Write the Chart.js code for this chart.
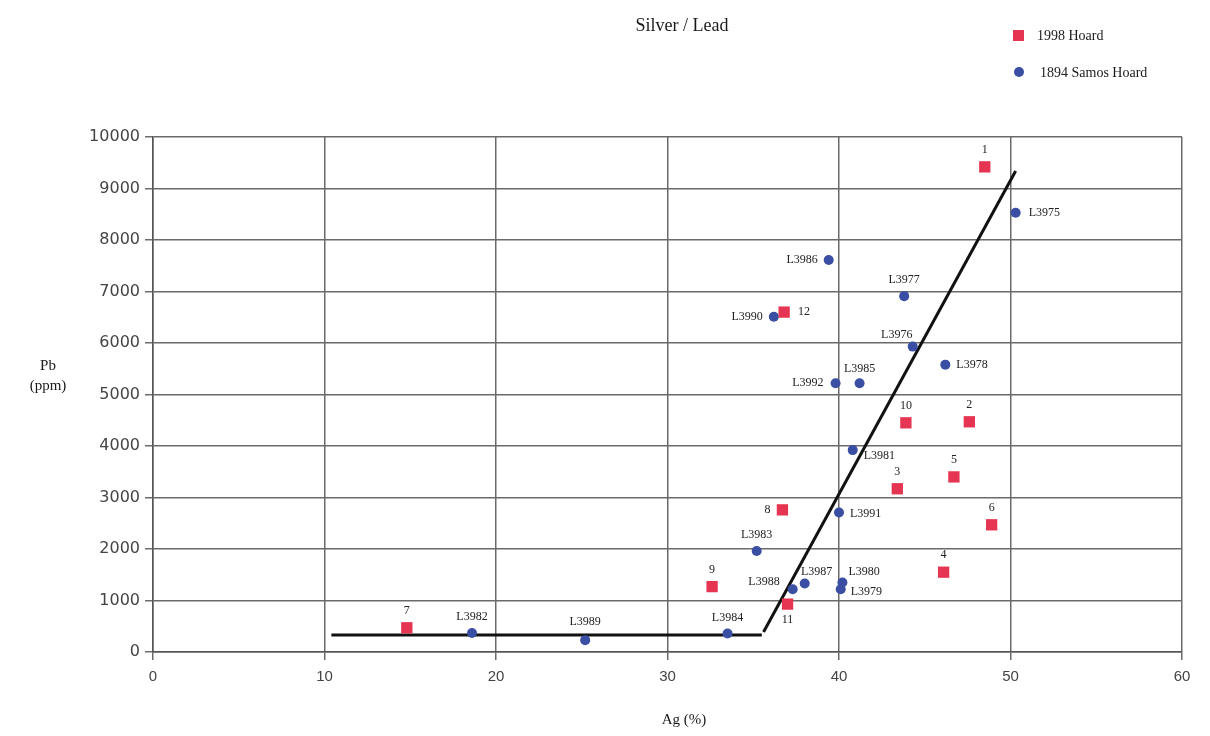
<!DOCTYPE html>
<html>
<head>
<meta charset="utf-8">
<script src="https://cdn.jsdelivr.net/npm/chart.js@4.4.0/dist/chart.umd.min.js"></script>
<style>
   html, body { margin: 0; padding: 0; background: #ffffff; }
   #wrap { width: 1210px; height: 736px; position: relative; }
</style>
</head>
<body>
<div id="wrap"><canvas id="agPbChart" width="1210" height="736"></canvas></div>
<script>
// 1998 Hoard (red squares)
const hoardLabels = ['1', '2', '3', '4', '5', '6', '7', '8', '9', '10', '11', '12'];
const hoardAg = [48.5, 47.6, 43.4, 46.1, 46.7, 48.9, 14.8, 36.7, 32.6, 43.9, 37.0, 36.8];
const hoardPb = [9420, 4470, 3170, 1550, 3400, 2470, 470, 2760, 1270, 4450, 930, 6600];

// 1894 Samos Hoard (blue circles)
const samosLabels = ['L3975', 'L3986', 'L3977', 'L3990', 'L3976', 'L3978', 'L3985', 'L3992', 'L3981',
   'L3991', 'L3983', 'L3988', 'L3987', 'L3980', 'L3979', 'L3984', 'L3982', 'L3989'];
const samosAg = [50.3, 39.4, 43.8, 36.2, 44.3, 46.2, 41.2, 39.8, 40.8,
   40.0, 35.2, 37.3, 38.0, 40.2, 40.1, 33.5, 18.6, 25.2];
const samosPb = [8530, 7610, 6910, 6510, 5930, 5580, 5220, 5220, 3920,
   2710, 1960, 1220, 1330, 1350, 1220, 360, 370, 230];

// hand drawn trend lines
const lowLineAg = [10.4, 35.5];
const lowLinePb = [330, 330];
const highLineAg = [35.6, 50.3];
const highLinePb = [390, 9340];

// axis ticks
const xTicks = [0, 10, 20, 30, 40, 50, 60];
const yTicks = [0, 1000, 2000, 3000, 4000, 5000, 6000, 7000, 8000, 9000, 10000];

const RED = '#e63552';
const BLUE = '#3a4ea3';

function toPoints(xs, ys) {
   return xs.map((x, i) => ({ x: x, y: ys[i] }));
}

// where each point label sits: [textAlign, dx, dy]
const labelPlace = {
   '8': ['right', -12, 0],
   '11': ['center', 0, 16],
   '12': ['left', 14, 0],
   'L3975': ['left', 13, 0],
   'L3986': ['right', -11, 0],
   'L3990': ['right', -11, 0],
   'L3976': ['center', -16, -12],
   'L3978': ['left', 11, 0],
   'L3985': ['center', 0, -14],
   'L3992': ['right', -12, 0],
   'L3981': ['left', 11, 6],
   'L3991': ['left', 11, 1],
   'L3988': ['right', -13, -7],
   'L3987': ['center', 12, -12],
   'L3980': ['left', 6, -11],
   'L3979': ['left', 10, 3],
   'L3989': ['center', 0, -18]
};

const pointLabels = {
   id: 'pointLabels',
   afterDatasetsDraw(chart) {
      const ctx = chart.ctx;
      ctx.save();
      ctx.font = '12px "Liberation Serif", "Times New Roman", serif';
      ctx.fillStyle = '#222';
      ctx.textBaseline = 'middle';
      [0, 1].forEach(di => {
         const ds = chart.data.datasets[di];
         chart.getDatasetMeta(di).data.forEach((el, i) => {
            const name = ds.names[i];
            const def = di === 0 ? ['center', 0, -17] : ['center', 0, -16];
            const p = labelPlace[name] || def;
            ctx.textAlign = p[0];
            ctx.fillText(name, el.x + p[1], el.y + p[2]);
         });
      });
      ctx.restore();
   }
};

const decorations = {
   id: 'decorations',
   afterDraw(chart) {
      const ctx = chart.ctx;
      ctx.save();
      ctx.fillStyle = '#1a1a1a';
      ctx.textBaseline = 'middle';
      ctx.textAlign = 'center';
      ctx.font = '18px "Liberation Serif", "Times New Roman", serif';
      ctx.fillText('Silver / Lead', 682, 26);

      ctx.font = '15px "Liberation Serif", "Times New Roman", serif';
      ctx.fillText('Ag (%)', 684, 720);
      ctx.fillText('Pb', 48, 366);
      ctx.fillText('(ppm)', 48, 386);

      // legend
      ctx.textAlign = 'left';
      ctx.font = '14px "Liberation Serif", "Times New Roman", serif';
      ctx.fillStyle = RED;
      ctx.fillRect(1013, 30, 11, 11);
      ctx.fillStyle = BLUE;
      ctx.beginPath();
      ctx.arc(1019, 72, 5, 0, Math.PI * 2);
      ctx.fill();
      ctx.fillStyle = '#1a1a1a';
      ctx.fillText('1998 Hoard', 1037, 36);
      ctx.fillText('1894 Samos Hoard', 1040, 73);
      ctx.restore();
   }
};

const ctx = document.getElementById('agPbChart').getContext('2d');
new Chart(ctx, {
   type: 'scatter',
   data: {
      datasets: [
         {
            label: '1998 Hoard',
            names: hoardLabels,
            data: toPoints(hoardAg, hoardPb),
            pointStyle: 'rect',
            pointRadius: 8,
            backgroundColor: RED,
            borderColor: RED,
            borderWidth: 0,
            order: 1
         },
         {
            label: '1894 Samos Hoard',
            names: samosLabels,
            data: toPoints(samosAg, samosPb),
            pointStyle: 'circle',
            pointRadius: 5,
            backgroundColor: BLUE,
            borderColor: BLUE,
            borderWidth: 0,
            order: 1
         },
         {
            type: 'line',
            data: toPoints(lowLineAg, lowLinePb),
            borderColor: '#111',
            borderWidth: 3,
            pointRadius: 0,
            order: 2
         },
         {
            type: 'line',
            data: toPoints(highLineAg, highLinePb),
            borderColor: '#111',
            borderWidth: 3,
            pointRadius: 0,
            order: 2
         }
      ]
   },
   options: {
      responsive: false,
      animation: false,
      layout: { padding: { top: 137, right: 28, left: 0, bottom: 0 } },
      plugins: {
         legend: { display: false },
         tooltip: { enabled: false }
      },
      scales: {
         x: {
            type: 'linear',
            min: 0,
            max: 60,
            afterBuildTicks: (s) => { s.ticks = xTicks.map(v => ({ value: v })); },
            afterFit: (s) => { s.height = 84; },
            grid: { color: '#6a6a6a', lineWidth: 1.5, tickLength: 8 },
            border: { color: '#555', width: 1.5 },
            ticks: {
               color: '#444',
               padding: 8,
               callback: (v) => String(v),
               font: { family: '"Liberation Sans", Arial, sans-serif', size: 15 }
            }
         },
         y: {
            type: 'linear',
            min: 0,
            max: 10000,
            afterBuildTicks: (s) => { s.ticks = yTicks.map(v => ({ value: v })); },
            afterFit: (s) => { s.width = 153; },
            grid: { color: '#6a6a6a', lineWidth: 1.5, tickLength: 8 },
            border: { color: '#555', width: 1.5 },
            ticks: {
               color: '#444',
               padding: 5,
               callback: (v) => String(v),
               font: { family: '"DejaVu Sans", sans-serif', size: 16 }
            }
         }
      }
   },
   plugins: [pointLabels, decorations]
});
</script>
</body>
</html>
